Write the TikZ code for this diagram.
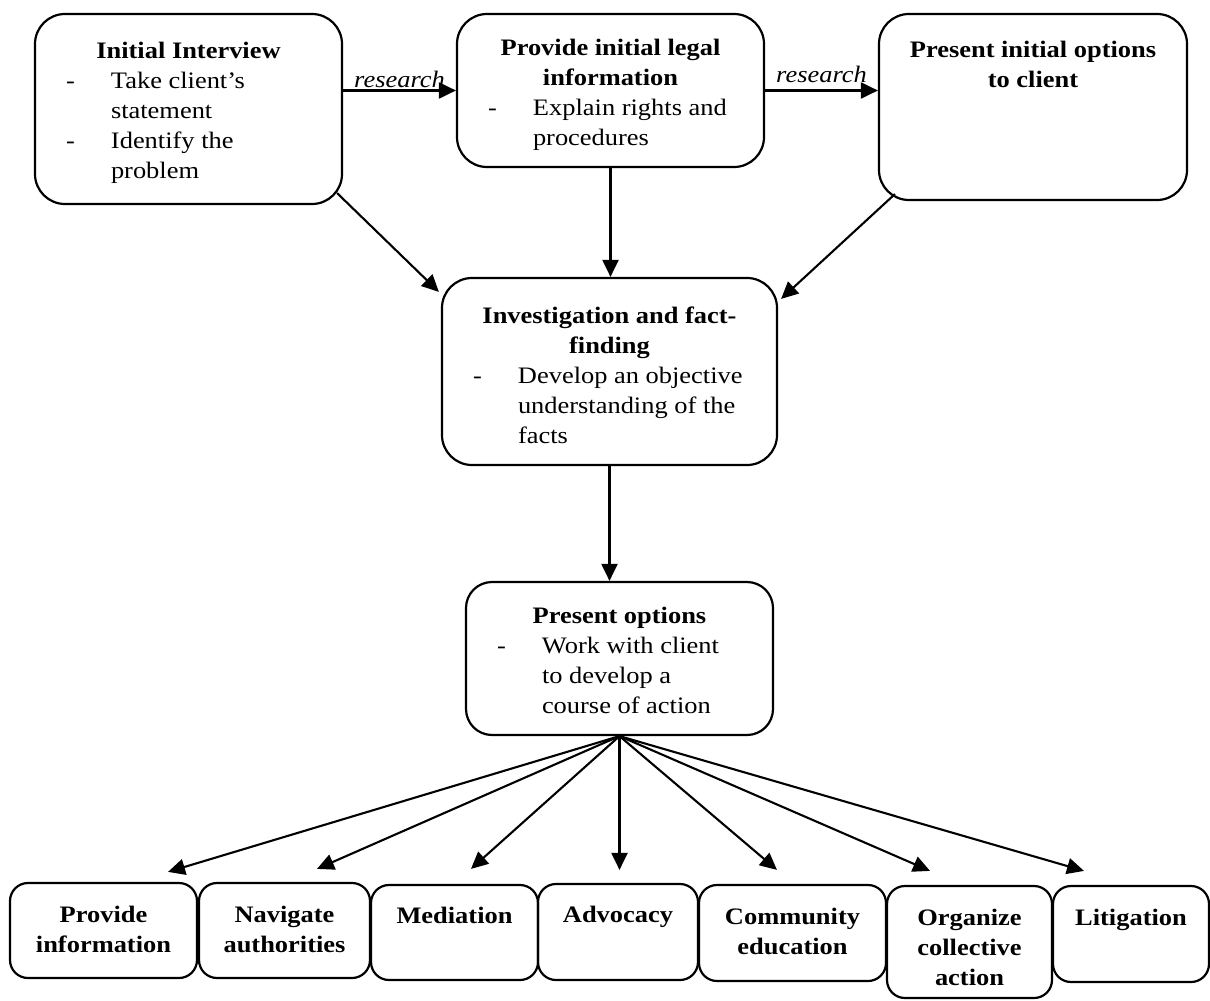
\documentclass[tikz,border=0pt]{standalone}
\usepackage{fontspec}
\setmainfont{Liberation Serif}[FakeStretch=1.12]
\usetikzlibrary{arrows.meta,calc}
\tikzset{
  every node/.style={font=\fontsize{11.8}{15}\selectfont},
  stage/.style={draw,line width=1.1pt,rounded corners=15pt,inner sep=0pt},
  option/.style={draw,line width=1.1pt,rounded corners=9pt,inner sep=0pt},
  arr/.style={-{Triangle[length=8.5pt,width=8pt]},line width=1.05pt},
  note/.style={font=\itshape\fontsize{11.8}{15}\selectfont,inner sep=1pt}
}
% box contents: width, height, top gap, text
\newcommand{\stagebody}[4]{\parbox[t][#2][t]{#1}{\vspace*{#3}#4}}
\newcommand{\dashitem}{\par\noindent\hspace*{15.5pt}\makebox[22.5pt][l]{-}}
\newcommand{\dashcont}{\par\noindent\hspace*{38pt}}

\begin{document}
\begin{tikzpicture}[x=0.5pt,y=-0.5pt]
\path[use as bounding box] (0,0) rectangle (1210,1001);
% top row
\node[stage] (interview) at (188.5,109) {\stagebody{153.5pt}{95pt}{14pt}{%
  {\centering\bfseries Initial Interview\par}
  \dashitem Take client's
  \dashcont statement
  \dashitem Identify the
  \dashcont problem}};
\node[stage] (legal) at (610.5,90.5) {\stagebody{153.5pt}{76.5pt}{12.6pt}{%
  {\centering\bfseries Provide initial legal\\information\par}
  \dashitem Explain rights and
  \dashcont procedures}};
\node[stage] (options) at (1033,107) {\stagebody{154pt}{93pt}{13.6pt}{%
  {\centering\bfseries Present initial options\\to client\par}}};
\draw[arr] (interview.east |- legal.west) -- node[note,above] {research} (legal.west);
\draw[arr] (legal.east) -- node[note,above,yshift=2.5pt] {research} (options.west |- legal.east);
% middle
\node[stage] (investigation) at (609.5,371.5) {\stagebody{167.5pt}{93.5pt}{14.6pt}{%
  {\centering\bfseries Investigation and fact-\\finding\par}
  \dashitem Develop an objective
  \dashcont understanding of the
  \dashcont facts}};
\node[stage,rounded corners=13pt] (present) at (619.5,658.5) {\stagebody{153.5pt}{76.5pt}{12.6pt}{%
  {\centering\bfseries Present options\par}
  \dashitem Work with client
  \dashcont to develop a
  \dashcont course of action}};
\draw[arr] ($(interview.south east)+(-6,-12)$) -- ($(investigation.north west)+(-2,15)$);
\draw[arr] (legal.south) -- (legal.south |- investigation.north);
\draw[arr] ($(options.south west)+(17,-7)$) -- ($(investigation.north east)+(3,22)$);
\draw[arr] (investigation.south) -- (investigation.south |- present.north);
% courses of action
\node[option] (provide) at (103.5,930.5) {\stagebody{93.5pt}{47.5pt}{11.6pt}{%
  {\centering\bfseries Provide\\information\par}}};
\node[option] (navigate) at (284.5,930.5) {\stagebody{85.5pt}{47.5pt}{11.6pt}{%
  {\centering\bfseries Navigate\\authorities\par}}};
\node[option] (mediation) at (454.5,932.5) {\stagebody{83.5pt}{47.5pt}{11pt}{%
  {\centering\bfseries Mediation\par}}};
\node[option] (advocacy) at (618,932) {\stagebody{80pt}{48pt}{11pt}{%
  {\centering\bfseries Advocacy\par}}};
\node[option] (community) at (792.5,933) {\stagebody{93.5pt}{48pt}{11.6pt}{%
  {\centering\bfseries Community\\education\par}}};
\node[option] (organize) at (969.5,942) {\stagebody{82.5pt}{56pt}{11.6pt}{%
  {\centering\bfseries Organize\\collective\\action\par}}};
\node[option] (litigation) at (1131,934) {\stagebody{78pt}{48pt}{11.6pt}{%
  {\centering\bfseries Litigation\par}}};
\foreach \dest/\dx/\dy in {provide/64.5/-10,navigate/32.5/-13,mediation/16.5/-15,
    advocacy/1.5/-13,community/-15.5/-14,organize/-39.5/-14,litigation/-47/-14}
  \draw[arr] (present.south) -- ($(\dest.north)+(\dx,\dy)$);
\end{tikzpicture}
\end{document}
